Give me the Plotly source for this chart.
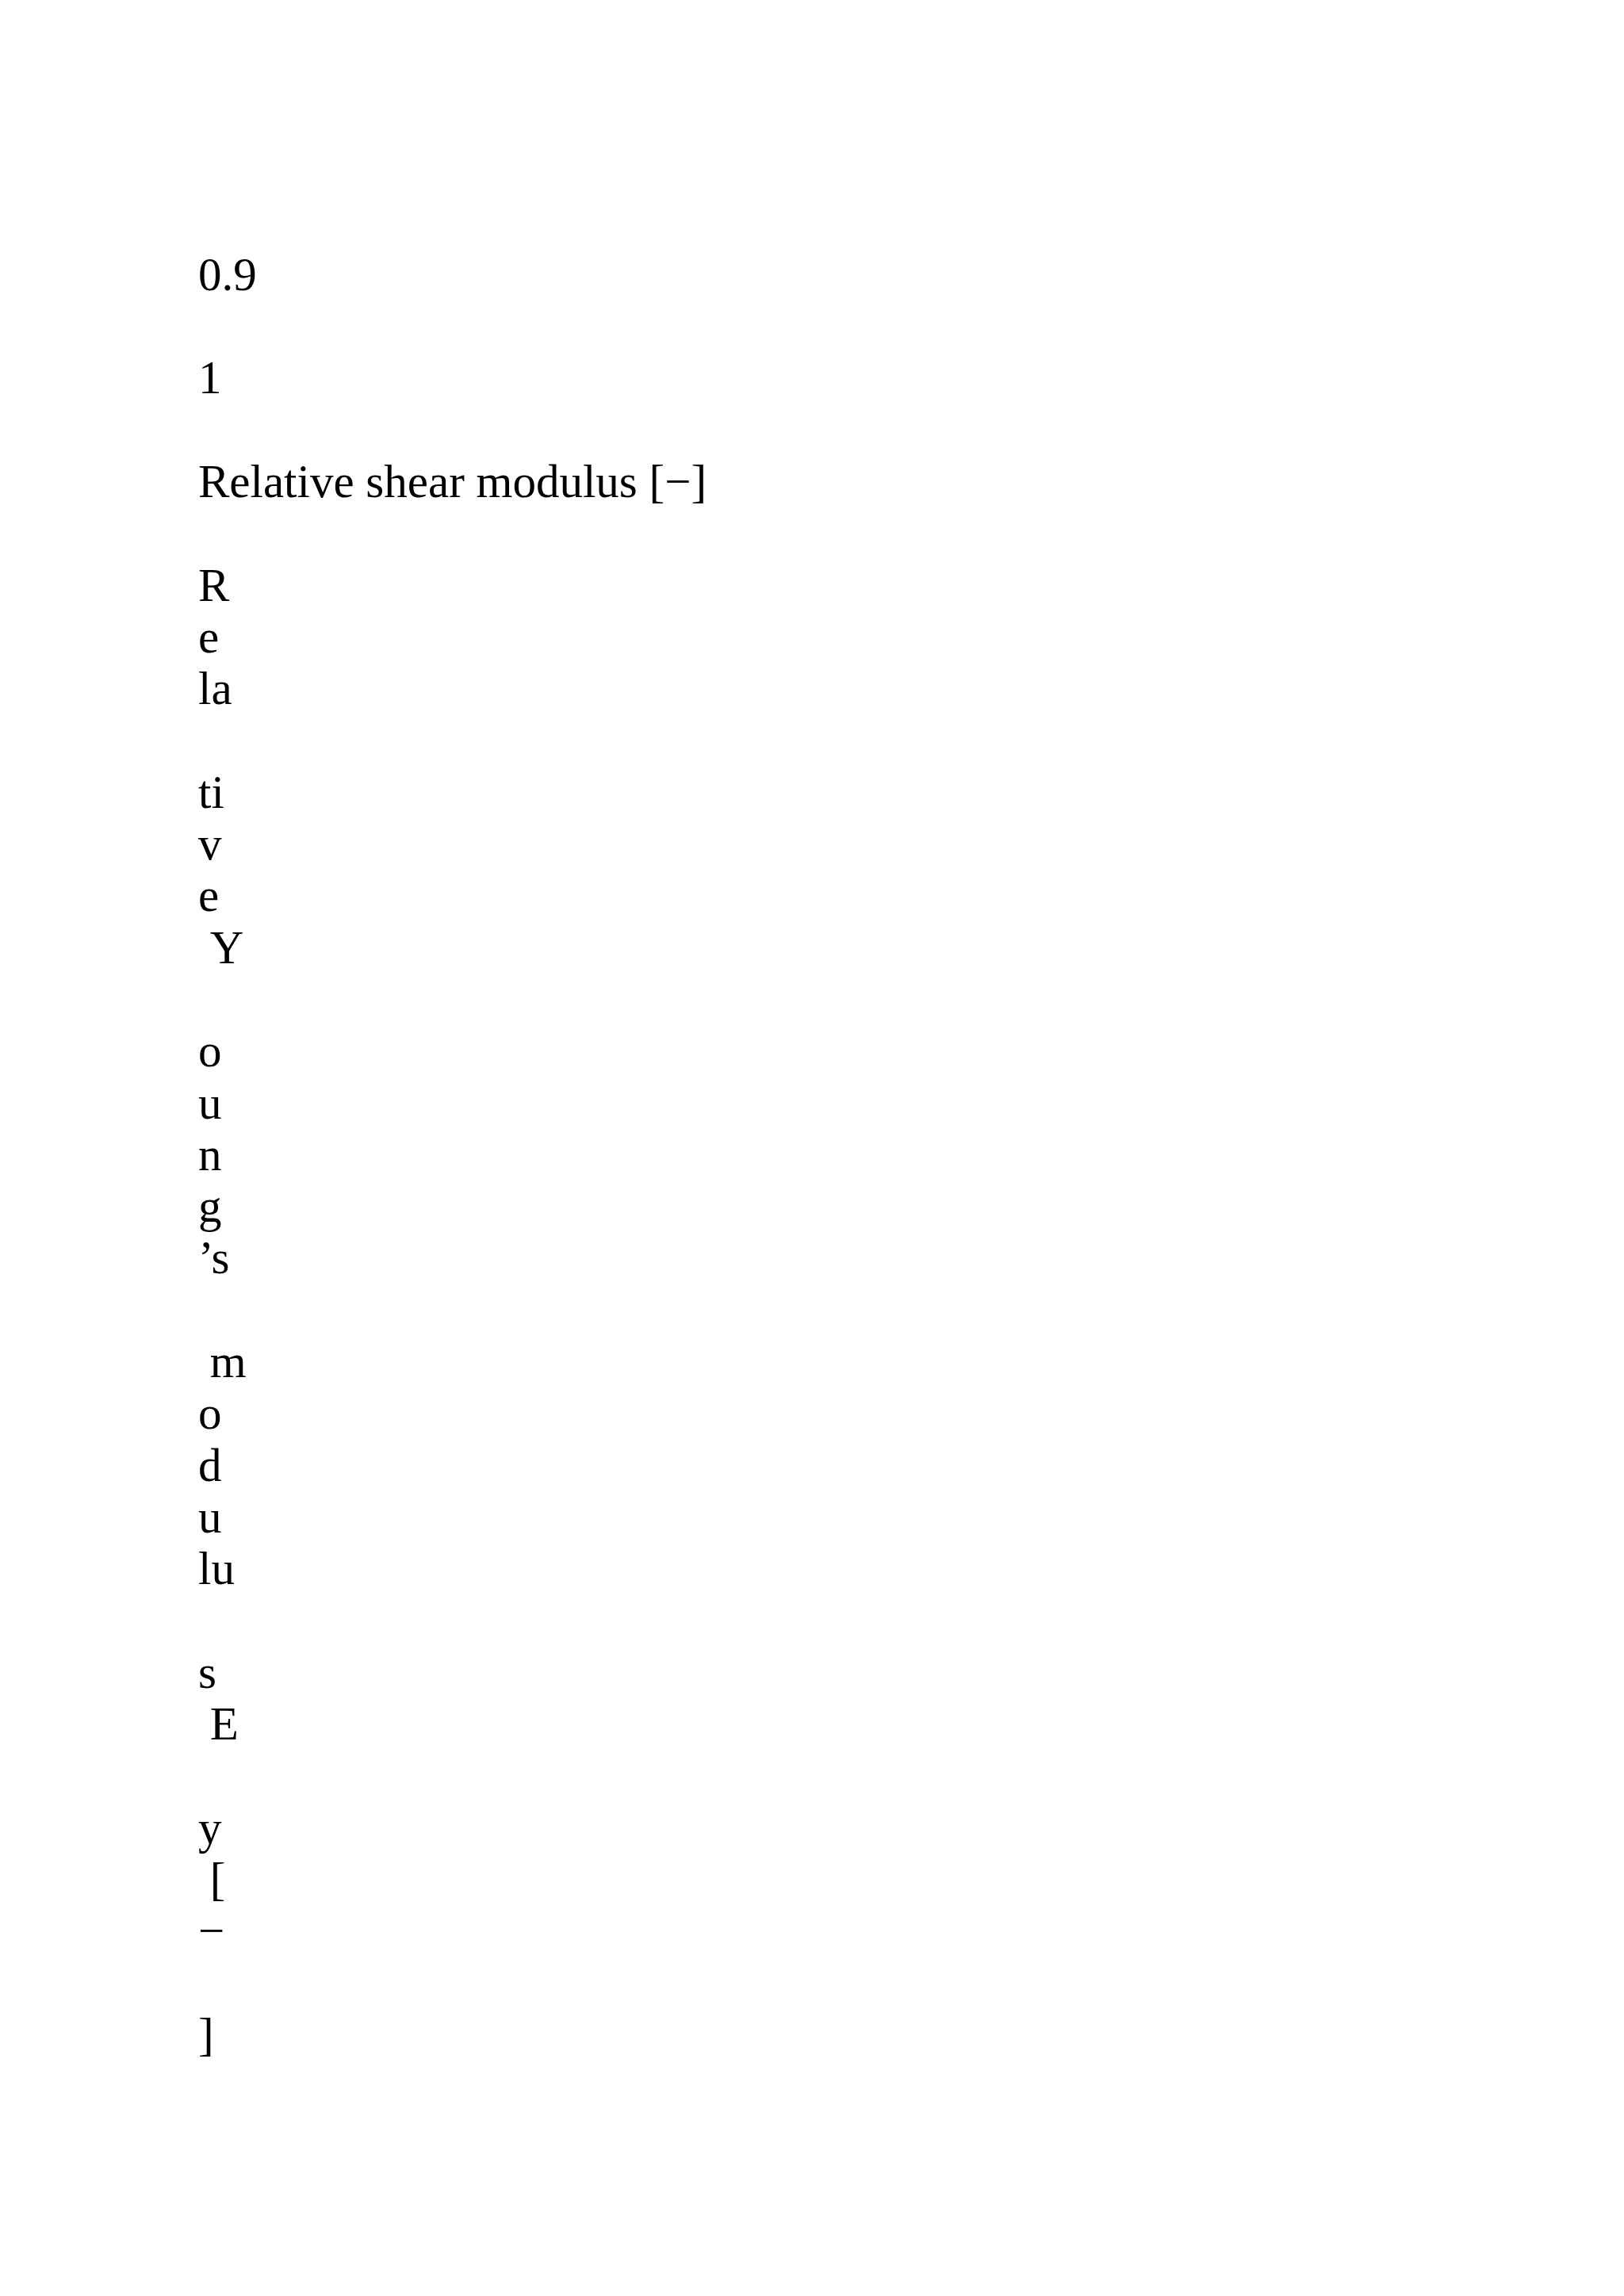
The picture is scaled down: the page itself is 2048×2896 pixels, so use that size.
import plotly.graph_objects as go

# text fragments as they sit in the page, one per text row
fragments = [
    "0.9", "1", "Relative shear modulus [\u2212]",
    "R", "e", "la", "ti", "v", "e", "\u00a0Y",
    "o", "u", "n", "g", "\u2019s",
    "\u00a0m", "o", "d", "u", "lu",
    "s", "\u00a0E",
    "y", "\u00a0[", "\u2212", "]",
]
# row index of each fragment (blank rows are skipped)
rows = [
    0, 2, 4,
    6, 7, 8, 10, 11, 12, 13,
    15, 16, 17, 18, 19,
    21, 22, 23, 24, 25,
    27, 28,
    30, 31, 32, 34,
]

W, H = 2048, 2896
left_px = 242      # left edge of the text column (plotly adds a small offset)
top_px = 343       # centre of first row
row_px = 65.3      # line pitch

fig = go.Figure()
fig.add_trace(go.Scatter(
    x=[0] * len(fragments),
    y=rows,
    mode='text',
    text=fragments,
    textposition='middle right',
    textfont=dict(family='Liberation Serif, Times New Roman, serif', size=59, color='black'),
    hoverinfo='skip',
    showlegend=False,
))

fig.update_layout(
    width=W,
    height=H,
    margin=dict(l=0, r=0, t=0, b=0),
    paper_bgcolor='white',
    plot_bgcolor='white',
    xaxis=dict(range=[-left_px, W - left_px], visible=False, fixedrange=True),
    yaxis=dict(range=[(H - top_px) / row_px, -top_px / row_px], visible=False, fixedrange=True),
)

fig.write_html("out.html")
